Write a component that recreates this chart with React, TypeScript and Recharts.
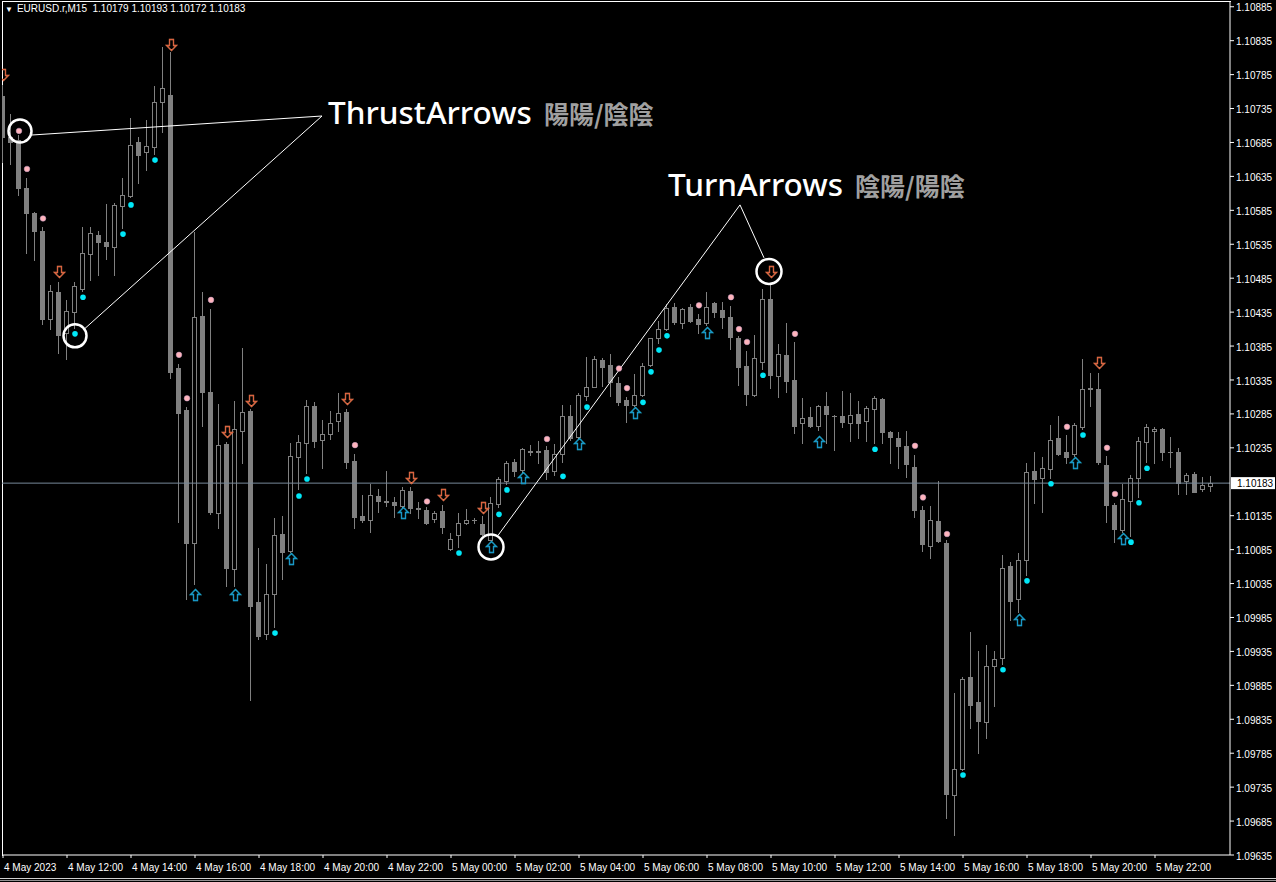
import React from 'react';
import {
  ComposedChart,
  Bar,
  Scatter,
  XAxis,
  YAxis,
  ReferenceLine,
  ReferenceDot,
} from 'recharts';

// EURUSD.r M15, bar 0 = 4 May 2023 10:00
const opens = [
  1.10753, 1.10693, 1.10688, 1.10618, 1.10581, 1.10554, 1.10425, 1.10464, 1.10404, 1.10435,
  1.10469, 1.10520, 1.10548, 1.10538, 1.10531, 1.10591, 1.10606, 1.10685, 1.10671, 1.10678,
  1.10744, 1.10755, 1.10352, 1.10291, 1.10095, 1.10429, 1.10317, 1.10139, 1.10240, 1.10056,
  1.10260, 1.10289, 1.10008, 1.09961, 1.10020, 1.10108, 1.10083, 1.10221, 1.10242, 1.10296,
  1.10246, 1.10255, 1.10274, 1.10288, 1.10215, 1.10134, 1.10128, 1.10164, 1.10156, 1.10155,
  1.10149, 1.10171, 1.10145, 1.10143, 1.10130, 1.10142, 1.10086, 1.10106, 1.10124, 1.10128,
  1.10123, 1.10099, 1.10152, 1.10186, 1.10214, 1.10202, 1.10229, 1.10230, 1.10232, 1.10201,
  1.10226, 1.10282, 1.10251, 1.10311, 1.10325, 1.10364, 1.10357, 1.10330, 1.10305, 1.10298,
  1.10313, 1.10357, 1.10397, 1.10410, 1.10442, 1.10419, 1.10442, 1.10425, 1.10419, 1.10448,
  1.10438, 1.10428, 1.10397, 1.10355, 1.10313, 1.10361, 1.10454, 1.10341, 1.10372, 1.10335,
  1.10271, 1.10280, 1.10267, 1.10296, 1.10282, 1.10282, 1.10271, 1.10285, 1.10274, 1.10292,
  1.10307, 1.10258, 1.10249, 1.10238, 1.10207, 1.10143, 1.10090, 1.10127, 1.10095, 1.09723,
  1.09762, 1.09897, 1.09860, 1.09831, 1.09913, 1.09925, 1.10061, 1.10012, 1.10070, 1.10201,
  1.10190, 1.10204, 1.10249, 1.10229, 1.10226, 1.10265, 1.10323, 1.10321, 1.10210, 1.10151,
  1.10114, 1.10156, 1.10190, 1.10243, 1.10260, 1.10263, 1.10229, 1.10229, 1.10186, 1.10196,
  1.10174, 1.10179,
];
const highs = [
  1.10769, 1.10727, 1.10696, 1.10632, 1.10582, 1.10560, 1.10475, 1.10479, 1.10453, 1.10479,
  1.10560, 1.10560, 1.10554, 1.10594, 1.10596, 1.10632, 1.10721, 1.10693, 1.10718, 1.10768,
  1.10825, 1.10818, 1.10358, 1.10295, 1.10553, 1.10464, 1.10439, 1.10299, 1.10243, 1.10304,
  1.10382, 1.10292, 1.10087, 1.10064, 1.10131, 1.10134, 1.10242, 1.10254, 1.10305, 1.10302,
  1.10276, 1.10289, 1.10316, 1.10292, 1.10226, 1.10165, 1.10182, 1.10174, 1.10201, 1.10162,
  1.10177, 1.10177, 1.10155, 1.10148, 1.10142, 1.10151, 1.10109, 1.10139, 1.10145, 1.10131,
  1.10134, 1.10162, 1.10192, 1.10216, 1.10218, 1.10235, 1.10239, 1.10245, 1.10238, 1.10240,
  1.10298, 1.10298, 1.10316, 1.10369, 1.10370, 1.10367, 1.10373, 1.10339, 1.10310, 1.10344,
  1.10360, 1.10397, 1.10422, 1.10447, 1.10448, 1.10441, 1.10447, 1.10432, 1.10464, 1.10450,
  1.10450, 1.10444, 1.10400, 1.10377, 1.10401, 1.10469, 1.10478, 1.10388, 1.10419, 1.10391,
  1.10308, 1.10295, 1.10298, 1.10317, 1.10283, 1.10319, 1.10316, 1.10304, 1.10296, 1.10311,
  1.10308, 1.10260, 1.10258, 1.10260, 1.10224, 1.10149, 1.10149, 1.10186, 1.10099, 1.09874,
  1.09897, 1.09963, 1.09935, 1.09944, 1.09935, 1.10077, 1.10067, 1.10080, 1.10213, 1.10229,
  1.10221, 1.10268, 1.10282, 1.10254, 1.10271, 1.10366, 1.10345, 1.10345, 1.10223, 1.10154,
  1.10182, 1.10195, 1.10251, 1.10270, 1.10265, 1.10264, 1.10251, 1.10235, 1.10198, 1.10199,
  1.10192, 1.10193,
];
const lows = [
  1.10656, 1.10654, 1.10607, 1.10522, 1.10512, 1.10417, 1.10410, 1.10375, 1.10366, 1.10411,
  1.10466, 1.10482, 1.10490, 1.10513, 1.10490, 1.10559, 1.10604, 1.10625, 1.10644, 1.10668,
  1.10700, 1.10338, 1.10126, 1.10012, 1.10034, 1.10267, 1.10137, 1.10117, 1.10031, 1.10031,
  1.10212, 1.09863, 1.09953, 1.09953, 1.09971, 1.10042, 1.10081, 1.10174, 1.10198, 1.10236,
  1.10205, 1.10248, 1.10260, 1.10205, 1.10117, 1.10126, 1.10111, 1.10140, 1.10149, 1.10133,
  1.10148, 1.10139, 1.10131, 1.10123, 1.10126, 1.10109, 1.10084, 1.10089, 1.10123, 1.10124,
  1.10106, 1.10099, 1.10148, 1.10182, 1.10193, 1.10199, 1.10224, 1.10213, 1.10189, 1.10195,
  1.10214, 1.10246, 1.10249, 1.10305, 1.10324, 1.10326, 1.10311, 1.10298, 1.10273, 1.10296,
  1.10311, 1.10355, 1.10389, 1.10408, 1.10417, 1.10411, 1.10420, 1.10404, 1.10416, 1.10428,
  1.10411, 1.10380, 1.10327, 1.10298, 1.10311, 1.10351, 1.10323, 1.10310, 1.10317, 1.10257,
  1.10242, 1.10265, 1.10261, 1.10242, 1.10232, 1.10265, 1.10245, 1.10249, 1.10245, 1.10242,
  1.10242, 1.10212, 1.10205, 1.10192, 1.10133, 1.10083, 1.10073, 1.10096, 1.09689, 1.09664,
  1.09760, 1.09822, 1.09785, 1.09807, 1.09854, 1.09916, 1.09981, 1.09993, 1.10047, 1.10154,
  1.10140, 1.10190, 1.10224, 1.10212, 1.10223, 1.10263, 1.10296, 1.10211, 1.10126, 1.10096,
  1.10111, 1.10105, 1.10162, 1.10214, 1.10212, 1.10217, 1.10207, 1.10167, 1.10167, 1.10170,
  1.10171, 1.10172,
];
const closes = [
  1.10693, 1.10685, 1.10618, 1.10581, 1.10554, 1.10425, 1.10466, 1.10401, 1.10436, 1.10473,
  1.10522, 1.10551, 1.10538, 1.10532, 1.10593, 1.10607, 1.10682, 1.10666, 1.10680, 1.10744,
  1.10766, 1.10347, 1.10286, 1.10095, 1.10428, 1.10317, 1.10140, 1.10239, 1.10058, 1.10263,
  1.10288, 1.10002, 1.09958, 1.10020, 1.10106, 1.10081, 1.10223, 1.10243, 1.10296, 1.10245,
  1.10255, 1.10271, 1.10286, 1.10214, 1.10133, 1.10128, 1.10165, 1.10156, 1.10155, 1.10151,
  1.10173, 1.10146, 1.10146, 1.10124, 1.10139, 1.10118, 1.10100, 1.10124, 1.10128, 1.10128,
  1.10108, 1.10154, 1.10189, 1.10213, 1.10201, 1.10233, 1.10230, 1.10229, 1.10199, 1.10226,
  1.10282, 1.10249, 1.10313, 1.10325, 1.10366, 1.10354, 1.10332, 1.10302, 1.10298, 1.10313,
  1.10355, 1.10397, 1.10410, 1.10441, 1.10420, 1.10439, 1.10422, 1.10417, 1.10442, 1.10435,
  1.10428, 1.10398, 1.10354, 1.10314, 1.10367, 1.10454, 1.10342, 1.10373, 1.10333, 1.10267,
  1.10279, 1.10267, 1.10296, 1.10285, 1.10282, 1.10273, 1.10283, 1.10271, 1.10294, 1.10308,
  1.10258, 1.10251, 1.10238, 1.10211, 1.10143, 1.10093, 1.10128, 1.10098, 1.09725, 1.09762,
  1.09894, 1.09856, 1.09832, 1.09913, 1.09924, 1.10058, 1.10009, 1.10070, 1.10199, 1.10189,
  1.10205, 1.10246, 1.10226, 1.10221, 1.10268, 1.10321, 1.10321, 1.10214, 1.10151, 1.10115,
  1.10159, 1.10190, 1.10245, 1.10265, 1.10263, 1.10229, 1.10229, 1.10183, 1.10195, 1.10170,
  1.10180, 1.10183,
];

// indicator marks: [bar index, price]
const sellDots = [
  [2, 1.10702], [3, 1.10646], [5, 1.10573], [22, 1.10372], [23, 1.10308], [26, 1.10453],
  [44, 1.10239], [53, 1.10156], [68, 1.10248], [77, 1.10352], [78, 1.10323], [87, 1.10445],
  [91, 1.10457], [92, 1.10410], [93, 1.10391], [99, 1.10403], [114, 1.10238], [115, 1.10162],
  [118, 1.10108], [133, 1.10266], [138, 1.10235], [139, 1.10167],
];
const buyDots = [
  [9, 1.10403], [10, 1.10457], [15, 1.10550], [16, 1.10593], [19, 1.10659], [34, 1.09962],
  [37, 1.10164], [38, 1.10189], [57, 1.10080], [62, 1.10137], [63, 1.10173], [70, 1.10193],
  [73, 1.10295], [80, 1.10302], [81, 1.10347], [82, 1.10379], [83, 1.10400], [95, 1.10342],
  [109, 1.10233], [120, 1.09753], [125, 1.09908], [128, 1.10039], [131, 1.10182], [135, 1.10254],
  [141, 1.10096], [142, 1.10154], [143, 1.10205],
];
const downArrows = [
  [0, 1.10784], [7, 1.10494], [21, 1.10828], [28, 1.10258], [31, 1.10304], [43, 1.10307],
  [51, 1.10190], [55, 1.10165], [60, 1.10146], [96, 1.10494], [137, 1.10360],
];
const upArrows = [
  [24, 1.10020], [29, 1.10020], [36, 1.10073], [50, 1.10140], [61, 1.10090], [65, 1.10192],
  [72, 1.10242], [79, 1.10288], [88, 1.10405], [102, 1.10245], [127, 1.09983], [134, 1.10214],
  [140, 1.10102],
];

const timeTicks = [0, 8, 16, 24, 32, 40, 48, 56, 64, 72, 80, 88, 96, 104, 112, 120, 128, 136, 144];
const timeLabels = [
  '4 May 2023', '4 May 12:00', '4 May 14:00', '4 May 16:00', '4 May 18:00', '4 May 20:00',
  '4 May 22:00', '5 May 00:00', '5 May 02:00', '5 May 04:00', '5 May 06:00', '5 May 08:00',
  '5 May 10:00', '5 May 12:00', '5 May 14:00', '5 May 16:00', '5 May 18:00', '5 May 20:00',
  '5 May 22:00',
];
const priceTicks = [
  1.10885, 1.10835, 1.10785, 1.10735, 1.10685, 1.10635, 1.10585, 1.10535, 1.10485, 1.10435,
  1.10385, 1.10335, 1.10285, 1.10235, 1.10135, 1.10085, 1.10035, 1.09985, 1.09935, 1.09885,
  1.09835, 1.09785, 1.09735, 1.09685, 1.09635,
];
const lastPrice = 1.10183;

// annotation anchors [bar index, price]
const thrustCircles = [[2.125, 1.10702], [9, 1.10400]];
const turnCircles = [[61, 1.10089], [95.75, 1.10495]];
const thrustApex = [39.875, 1.10724];
const thrustEnds = [[3.625, 1.10696], [10.25, 1.10411]];
const turnApex = [92.125, 1.10593];
const turnEnds = [[61.875, 1.10106], [95.125, 1.10515]];
const thrustText = [40.625, 1.10712];
const turnText = [83.125, 1.10606];

const CANDLE = '#808080';
const AXIS_FONT = '"Liberation Sans", Arial, sans-serif';

const candles = opens.map((o, i) => ({
  i,
  o,
  h: highs[i],
  l: lows[i],
  c: closes[i],
  range: [lows[i], highs[i]],
}));

const toPts = (arr: number[][]) => arr.map(([i, p]) => ({ i, p }));

const Candle = (props: any) => {
  const { x, y, width, height, payload } = props;
  const { o, h, l, c } = payload;
  const span = h - l;
  const py = (v: number) => (span > 0 ? y + ((h - v) / span) * height : y);
  const cx = Math.floor(x + width / 2);
  const wTop = Math.round(y);
  const wBot = Math.round(y + height);
  const top = Math.round(py(Math.max(o, c)));
  const bot = Math.round(py(Math.min(o, c)));
  const up = c >= o;
  let body;
  if (bot - top < 1) {
    body = <rect x={cx - 2} y={top} width={5} height={1} fill={CANDLE} />;
  } else if (up) {
    body = (
      <rect x={cx - 1.5} y={top + 0.5} width={4} height={bot - top} fill="#000" stroke={CANDLE} strokeWidth={1} />
    );
  } else {
    body = <rect x={cx - 2} y={top} width={5} height={bot - top + 1} fill={CANDLE} />;
  }
  return (
    <g>
      <rect x={cx} y={wTop} width={1} height={Math.max(1, wBot - wTop + 1)} fill={CANDLE} />
      {body}
    </g>
  );
};

const SellDot = ({ cx, cy }: any) => <circle cx={cx} cy={cy} r={2.8} fill="#ffb4bc" stroke="#c8a0c8" strokeWidth={0.5} />;
const BuyDot = ({ cx, cy }: any) => <circle cx={cx} cy={cy} r={2.8} fill="#00e8f8" />;

const DownArrow = ({ cx, cy }: any) => {
  const x = Math.floor(cx) + 0.5;
  const y = Math.round(cy) + 0.5;
  const d = `M${x - 2},${y - 6} L${x + 2},${y - 6} L${x + 2},${y} L${x + 5},${y} L${x},${y + 5} L${x - 5},${y} L${x - 2},${y} Z`;
  return (
    <g>
      <path d={d} fill="none" stroke="#ff8a5c" strokeWidth={1.3} />
      <path d={d} fill="none" stroke="#b03a20" strokeWidth={0.5} />
    </g>
  );
};

const UpArrow = ({ cx, cy }: any) => {
  const x = Math.floor(cx) + 0.5;
  const y = Math.round(cy) + 0.5;
  const d = `M${x - 2},${y + 6} L${x + 2},${y + 6} L${x + 2},${y} L${x + 5},${y} L${x},${y - 5} L${x - 5},${y} L${x - 2},${y} Z`;
  return (
    <g>
      <path d={d} fill="none" stroke="#22c8ec" strokeWidth={1.3} />
      <path d={d} fill="none" stroke="#1060a0" strokeWidth={0.5} />
    </g>
  );
};

const TimeTick = ({ x, y, payload }: any) => {
  const idx = timeTicks.indexOf(payload.value);
  return (
    <text x={x + 1} y={y + 11} fill="#fff" fontSize={10} fontFamily={AXIS_FONT} textAnchor="start">
      {timeLabels[idx]}
    </text>
  );
};

const PriceTag = (props: any) => {
  const vb = props.viewBox || {};
  const right = vb.x + vb.width;
  const cy = vb.y;
  return (
    <g>
      <rect x={right + 1} y={cy - 6} width={44} height={12} fill="#fff" />
      <text x={right + 7} y={cy + 4} fill="#000" fontSize={10} fontFamily={AXIS_FONT}>
        {lastPrice.toFixed(5)}
      </text>
    </g>
  );
};

const Caption = (title: string, sub: string) => (p: any) => (
  <text x={p.cx} y={p.cy} fontFamily='"Noto Sans", "Noto Sans CJK JP", sans-serif'>
    <tspan fill="#fff" fontSize={31.5} fontWeight={500}>{title}</tspan>
    <tspan dx={12} fill="#a0a0a0" fontSize={25} fontWeight={700} fontFamily='"Noto Sans CJK JP", sans-serif'>
      {sub}
    </tspan>
  </text>
);

const App: React.FC = () => {
  return (
    <div style={{ position: 'relative', width: 1276, height: 882, background: '#000', overflow: 'hidden' }}>
      <style>{'body{margin:0;background:#000}'}</style>
      <div
        style={{
          position: 'absolute',
          left: 2,
          top: 1,
          width: 1228,
          height: 854,
          borderTop: '1px solid #fff',
          borderLeft: '1px solid #fff',
        }}
      />
      <div style={{ position: 'absolute', left: 0, top: 878, width: 1276, height: 1, background: '#d0d0d0' }} />
      <div style={{ position: 'absolute', left: 0, top: 880, width: 1276, height: 1, background: '#909090' }} />
      <div style={{ position: 'absolute', left: 0, top: 0 }}>
        <ComposedChart width={1276} height={882} data={candles} margin={{ top: 2, right: 0, bottom: 0, left: 2 }}>
          <XAxis
            dataKey="i"
            type="number"
            domain={[-0.125, 153.375]}
            allowDataOverflow
            ticks={timeTicks}
            interval={0}
            height={27}
            stroke="#fff"
            tickSize={3}
            tickLine={{ stroke: '#fff' }}
            tick={<TimeTick />}
          />
          <YAxis
            orientation="right"
            type="number"
            domain={[1.09635, 1.10892]}
            allowDataOverflow
            ticks={priceTicks}
            interval={0}
            width={46}
            stroke="#fff"
            tickSize={4}
            tickMargin={2}
            tickFormatter={(v: number) => v.toFixed(5)}
            tick={{ fill: '#fff', fontSize: 10, fontFamily: AXIS_FONT, textAnchor: 'start', dy: 1 }}
          />
          <ReferenceLine y={lastPrice} stroke="#778899" strokeWidth={1} label={<PriceTag />} />
          <Bar dataKey="range" barSize={5} shape={<Candle />} isAnimationActive={false} />
          <Scatter data={toPts(sellDots)} dataKey="p" shape={<SellDot />} isAnimationActive={false} />
          <Scatter data={toPts(buyDots)} dataKey="p" shape={<BuyDot />} isAnimationActive={false} />
          <Scatter data={toPts(downArrows)} dataKey="p" shape={<DownArrow />} isAnimationActive={false} />
          <Scatter data={toPts(upArrows)} dataKey="p" shape={<UpArrow />} isAnimationActive={false} />

          {thrustEnds.map(([i, p], n) => (
            <ReferenceLine
              key={`te${n}`}
              segment={[{ x: i, y: p }, { x: thrustApex[0], y: thrustApex[1] }]}
              stroke="#fff"
              strokeWidth={1}
            />
          ))}
          {turnEnds.map(([i, p], n) => (
            <ReferenceLine
              key={`ue${n}`}
              segment={[{ x: turnApex[0], y: turnApex[1] }, { x: i, y: p }]}
              stroke="#fff"
              strokeWidth={1}
            />
          ))}
          {thrustCircles.map(([i, p], n) => (
            <ReferenceDot key={`tc${n}`} x={i} y={p} r={11.5} fill="none" stroke="#fff" strokeWidth={2.5} />
          ))}
          {turnCircles.map(([i, p], n) => (
            <ReferenceDot key={`uc${n}`} x={i} y={p} r={12.5} fill="none" stroke="#fff" strokeWidth={2.5} />
          ))}
          <ReferenceDot x={thrustText[0]} y={thrustText[1]} r={1} shape={Caption('ThrustArrows', '陽陽/陰陰')} />
          <ReferenceDot x={turnText[0]} y={turnText[1]} r={1} shape={Caption('TurnArrows', '陰陽/陽陰')} />
        </ComposedChart>
      </div>
      <div
        style={{
          position: 'absolute',
          left: 5,
          top: 3,
          color: '#fff',
          fontSize: 10,
          fontFamily: AXIS_FONT,
          whiteSpace: 'pre',
          lineHeight: '12px',
        }}
      >
        <span style={{ fontSize: 8, marginRight: 4 }}>▼</span>
        {'EURUSD.r,M15  1.10179 1.10193 1.10172 1.10183'}
      </div>
    </div>
  );
};

export default App;
